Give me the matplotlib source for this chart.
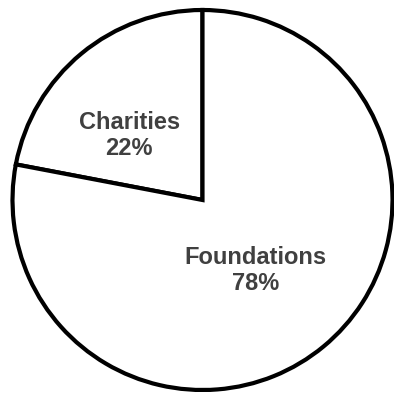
import matplotlib.pyplot as plt

# Funding split
labels = ['Charities', 'Foundations']
shares = [22, 78]

# label anchor points, in pie radius units from the centre
label_pos = [(-0.385, 0.34), (0.28, -0.37)]

plt.rcParams['font.family'] = ['Liberation Sans', 'DejaVu Sans']

fig = plt.figure(figsize=(3.94, 3.95), dpi=100)
ax = fig.add_axes([0, 0, 1, 1])

r = 190.0
cx, cy = 202.5, 200.0
ax.set_xlim(-cx / r, (394 - cx) / r)
ax.set_ylim(-(395 - cy) / r, cy / r)
ax.set_aspect('equal')
ax.axis('off')

ax.pie(shares, startangle=90, counterclock=True, radius=1.0,
       colors=['white', 'white'],
       wedgeprops=dict(edgecolor='black', linewidth=3.0, joinstyle='miter'),
       frame=True)
ax.set_xlim(-cx / r, (394 - cx) / r)
ax.set_ylim(-(395 - cy) / r, cy / r)
ax.axis('off')

for name, val, (x, y) in zip(labels, shares, label_pos):
    ax.text(x, y, f'{name}\n{val}%', ha='center', va='center',
            fontsize=17, fontweight='bold', color='#404040', linespacing=1.2)

fig.savefig('out.png', dpi=100, facecolor='white')
